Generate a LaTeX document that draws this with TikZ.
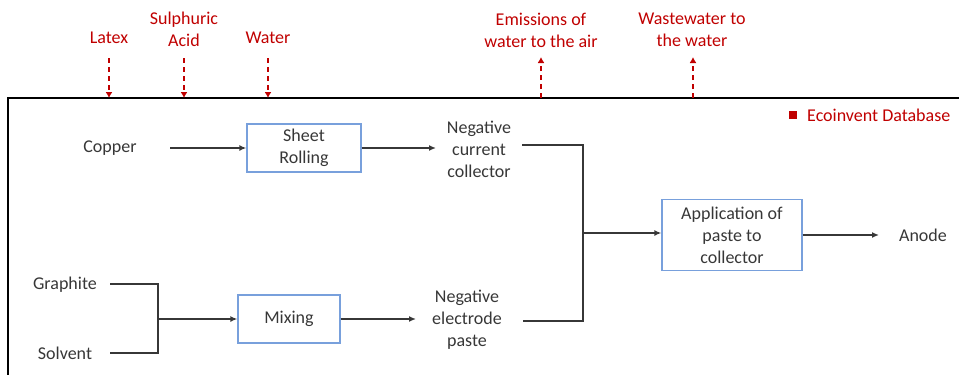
\documentclass[tikz,border=0pt]{standalone}
\usepackage{fontspec}
\setmainfont{Carlito}
\usetikzlibrary{arrows.meta}
\definecolor{eired}{RGB}{192,0,0}
\definecolor{boxblue}{RGB}{120,160,220}
\definecolor{txt}{RGB}{55,55,55}
\begin{document}
\begin{tikzpicture}[x=1pt,y=-1pt,
  every node/.style={font=\fontsize{18}{22}\selectfont, text=txt, align=center, inner sep=0pt},
  redlbl/.style={text=eired},
  procbox/.style={draw=boxblue, line width=1.3pt, inner sep=0pt},
  ln/.style={draw=txt, line width=1.4pt},
  arr/.style={ln, -{Latex[length=7pt,width=6pt]}},
  darr/.style={draw=eired, line width=2.8pt, dash pattern=on 5pt off 4pt, -{Latex[length=6pt,width=7pt]}},
]
\useasboundingbox (0,0) rectangle (959,375);
% frame
\draw[line width=2pt, black] (8,380) -- (8,98) -- (965,98);

% red inputs/outputs
\node[redlbl] (latex) at (109,38) {Latex};
\node[redlbl] (sulph) at (184,29) {Sulphuric\\Acid};
\node[redlbl] (water) at (268,38) {Water};
\node[redlbl] (emis) at (541,30) {Emissions of\\water to the air};
\node[redlbl] (waste) at (692,30) {Wastewater to\\the water};
\coordinate (latexin) at (109,98);
\coordinate (sulphin) at (184,98);
\coordinate (waterin) at (268,98);
\coordinate (emisout) at (541,98);
\coordinate (wasteout) at (693,98);
\draw[darr] (109,58) -- (latexin);
\draw[darr] (184,58) -- (sulphin);
\draw[darr] (268,58) -- (waterin);
\draw[darr] (emisout) -- (541,57);
\draw[darr] (wasteout) -- (693,57);

% legend
\node[fill=eired, minimum width=8pt, minimum height=8pt] (legsq) at (793,115) {};
\node[redlbl, anchor=west] (leg) at (807,115) {Ecoinvent Database};

% nodes
\node (copper) at (110,148) {Copper};
\node[procbox, minimum width=114pt, minimum height=48pt] (sheet) at (304,148) {Sheet\\Rolling};
\node (ncc) at (479,149) {Negative\\current\\collector};
\node (graph) at (65,285) {Graphite};
\node (solv) at (65,353) {Solvent};
\node[procbox, minimum width=102pt, minimum height=48pt] (mix) at (289,319) {Mixing};
\node (nep) at (467,320) {Negative\\electrode\\paste};
\node[procbox, minimum width=140pt, minimum height=71pt] (app) at (732,235) {Application of\\paste to\\collector};
\node (anode) at (923,235) {Anode};

% connectors
\coordinate (cpo) at (170,148);
\draw[arr] (cpo) -- (sheet.west);
\coordinate (nccin) at (436,148);
\draw[arr] (sheet.east) -- (nccin);

\coordinate (gr) at (110,284);
\coordinate (sv) at (110,353);
\coordinate (j2t) at (158,284);
\coordinate (j2b) at (158,353);
\coordinate (j2) at (158,319);
\draw[ln] (gr) -- (j2t) -- (j2b) -- (sv);
\draw[arr] (j2) -- (mix.west);
\coordinate (nepin) at (416,319);
\draw[arr] (mix.east) -- (nepin);

\coordinate (nccout) at (522,145);
\coordinate (nepout) at (523,321);
\coordinate (j1t) at (583,145);
\coordinate (j1b) at (583,321);
\coordinate (j1) at (583,233);
\draw[ln] (nccout) -- (j1t) -- (j1b) -- (nepout);
\draw[arr] (j1) -- (app.west |- j1);
\coordinate (anin) at (879,235);
\draw[arr] (app.east) -- (anin);
\end{tikzpicture}
\end{document}
